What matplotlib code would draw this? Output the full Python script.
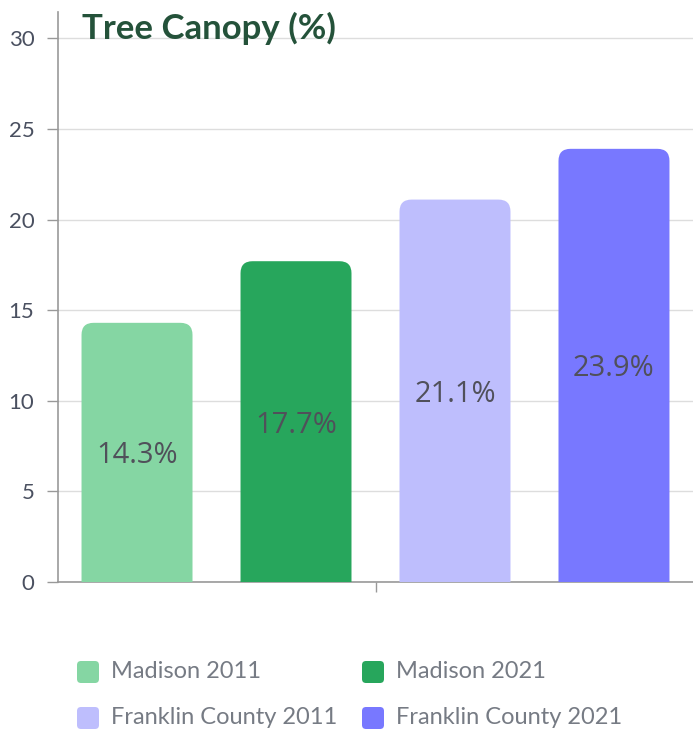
import matplotlib.pyplot as plt
from matplotlib.patches import FancyBboxPatch

# data
labels = ['Madison 2011', 'Madison 2021', 'Franklin County 2011', 'Franklin County 2021']
values = [14.3, 17.7, 21.1, 23.9]
colors = ['#85d6a3', '#27a65c', '#bebefd', '#7878ff']
yticks = [0, 5, 10, 15, 20, 25, 30]

W, H = 693, 734
fig = plt.figure(figsize=(W / 100, H / 100), dpi=100)
ax_l, ax_b, ax_r, ax_t = 58 / W, 152 / H, 1.0, 722 / H
ax = fig.add_axes([ax_l, ax_b, ax_r - ax_l, ax_t - ax_b])

xlim = (-0.497, 3.497)
ylim = (0, 31.45)
ax.set_xlim(*xlim)
ax.set_ylim(*ylim)

# pixel scale, used to keep the corner rounding circular
px_x = (ax_r - ax_l) * W / (xlim[1] - xlim[0])
px_y = (ax_t - ax_b) * H / (ylim[1] - ylim[0])
bw = 0.698
r_px = 12.0

for i, (v, c) in enumerate(zip(values, colors)):
    p = FancyBboxPatch((i - bw / 2, -3), bw, v + 3,
                       boxstyle='round,pad=0,rounding_size=%f' % (r_px / px_x),
                       mutation_aspect=px_x / px_y,
                       fc=c, ec='none', zorder=3)
    ax.add_patch(p)
    ax.text(i, v / 2, f'{v}%', ha='center', va='center_baseline', fontsize=21,
            color='#50505a', family='Open Sans', zorder=4)

ax.set_yticks(yticks)
ax.set_yticklabels([str(t) for t in yticks], fontsize=16, color='#4a5060',
                   family='Lato')
ax.set_xticks([1.5])
ax.set_xticklabels([''])
ax.tick_params(axis='y', length=8, width=1, color='#999999', pad=9)
ax.tick_params(axis='x', length=7, width=1, color='#999999', direction='out')
ax.yaxis.grid(True, color='#dddddd', lw=1, zorder=0)
ax.set_axisbelow(True)
for s in ['top', 'right']:
    ax.spines[s].set_visible(False)
for s in ['left', 'bottom']:
    ax.spines[s].set_color('#999999')
    ax.spines[s].set_linewidth(1.2)

fig.text(82 / W, 1 - 28 / H, 'Tree Canopy (%)', fontsize=25, fontweight='bold',
         color='#24523a', family='Lato', va='center', ha='left')

# legend drawn by hand, two columns
leg_x = [77, 362]
leg_y = [672, 718]
sq = 22
for i, (lab, c) in enumerate(zip(labels, colors)):
    x0 = leg_x[i % 2]
    yc = leg_y[i // 2]
    box = FancyBboxPatch((x0 / W, (H - yc - sq / 2) / H), sq / W, sq / H,
                         boxstyle='round,pad=0,rounding_size=%f' % (4 / W),
                         mutation_aspect=W / H,
                         transform=fig.transFigure, fc=c, ec='none')
    fig.add_artist(box)
    fig.text((x0 + sq + 12) / W, 1 - yc / H, lab, fontsize=17, color='#767b84',
             family='Lato', va='center', ha='left')

fig.savefig('out.png', dpi=100)
